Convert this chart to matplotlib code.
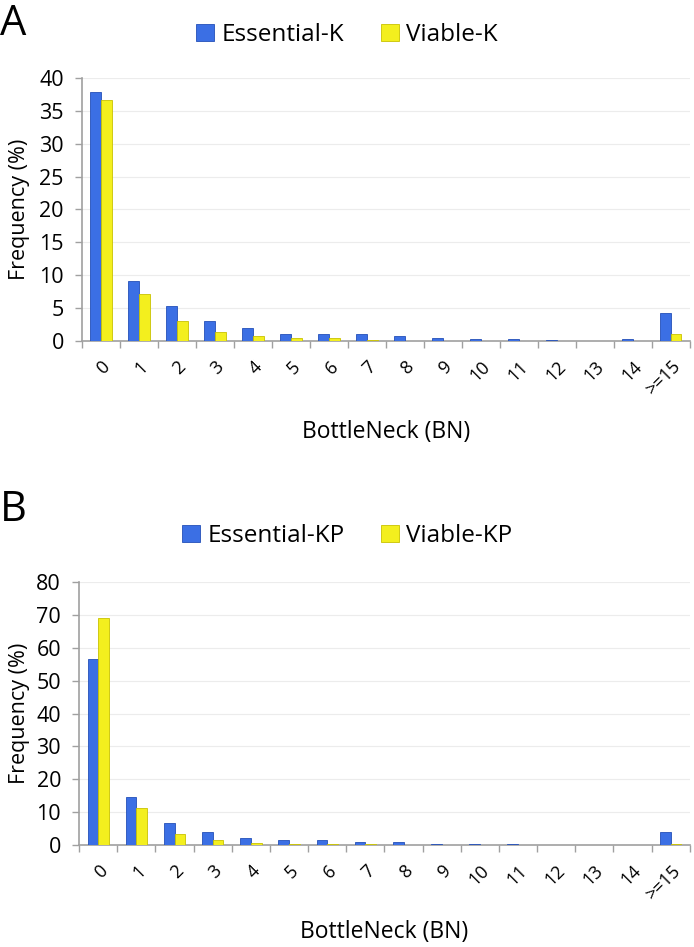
from matplotlib import pyplot as plt
import numpy as np

categories = ["0", "1", "2", "3", "4", "5", "6", "7", "8", "9", "10", "11", "12", "13", "14", ">=15"]

# Panel A
essential_k = [37.8, 9.1, 5.3, 3.1, 1.9, 1.0, 1.1, 1.0, 0.8, 0.5, 0.35, 0.35, 0.2, 0.0, 0.35, 4.2]
viable_k = [36.6, 7.1, 3.1, 1.3, 0.8, 0.5, 0.4, 0.2, 0.05, 0.03, 0.02, 0.02, 0.01, 0.0, 0.02, 1.0]

# Panel B
essential_kp = [56.5, 14.7, 6.8, 4.1, 2.0, 1.6, 1.6, 0.8, 1.0, 0.4, 0.3, 0.4, 0.1, 0.0, 0.05, 4.0]
viable_kp = [69.0, 11.3, 3.5, 1.5, 0.7, 0.4, 0.4, 0.3, 0.1, 0.05, 0.05, 0.02, 0.02, 0.0, 0.0, 0.3]

BLUE = "#3b6fe4"
BLUE_EDGE = "#2450b8"
YELLOW = "#f3ef1e"
YELLOW_EDGE = "#c9c200"

plt.rcParams["font.family"] = ["Open Sans", "DejaVu Sans"]


def draw_panel(ax, s1, s2, labels, ymax, ystep, letter, fig, legend_y, letter_y, ylabel_x, xlabel_y):
    x = np.arange(len(categories))
    w = 0.28
    b1 = ax.bar(x - w / 2, s1, w, color=BLUE, edgecolor=BLUE_EDGE, linewidth=0.6, label=labels[0], zorder=3)
    b2 = ax.bar(x + w / 2, s2, w, color=YELLOW, edgecolor=YELLOW_EDGE, linewidth=0.6, label=labels[1], zorder=3)

    ax.set_xlim(-0.5, len(categories) - 0.5)
    ax.set_ylim(0, ymax)
    ax.set_yticks(np.arange(0, ymax + 1, ystep))
    ax.tick_params(axis="y", labelsize=15.5, length=5, color="#a0a0a0", width=1, pad=8)

    # tick marks between categories, labels under each category
    ax.set_xticks(np.arange(-0.5, len(categories), 1.0))
    ax.set_xticklabels([])
    ax.tick_params(axis="x", which="major", length=5, color="#a0a0a0", width=1)
    ax.set_xticks(x, minor=True)
    ax.set_xticklabels(categories, minor=True, rotation=45, ha="right",
                       rotation_mode="anchor", fontsize=13)
    ax.tick_params(axis="x", which="minor", length=0, pad=12)

    ax.yaxis.grid(True, color="#ececec", linewidth=0.8, zorder=0)
    ax.set_axisbelow(True)
    for s in ["top", "right"]:
        ax.spines[s].set_visible(False)
    for s in ["left", "bottom"]:
        ax.spines[s].set_color("#a0a0a0")
        ax.spines[s].set_linewidth(1.2)

    ax.set_ylabel("Frequency (%)", fontsize=15.5, va="center")
    ax.yaxis.set_label_coords(ylabel_x, 0.5)
    ax.set_xlabel("BottleNeck (BN)", fontsize=16.5, va="center")
    ax.xaxis.set_label_coords(0.5, xlabel_y)

    fig.legend(handles=[b1, b2], loc="center", bbox_to_anchor=(0.5, legend_y), ncol=2,
               frameon=False, fontsize=17.5, handlelength=0.75, handleheight=0.75,
               handletextpad=0.3, columnspacing=1.5)
    fig.text(0.0, letter_y, letter, fontsize=30, va="center", ha="left")


if __name__ == '__main__':
    fig = plt.figure(figsize=(6.94, 9.47), dpi=100)

    ax_a = fig.add_axes([0.118, 0.640, 0.876, 0.2776])
    draw_panel(ax_a, essential_k, viable_k, ["Essential-K", "Viable-K"], 40, 5, "A",
               fig, 1 - 35 / 947, 1 - 24 / 947, -0.103, -0.346)

    ax_b = fig.add_axes([0.114, 0.1077, 0.880, 0.2777])
    draw_panel(ax_b, essential_kp, viable_kp, ["Essential-KP", "Viable-KP"], 80, 10, "B",
               fig, 1 - 536 / 947, 1 - 510 / 947, -0.098, -0.331)

    fig.savefig("out.png", dpi=100)
